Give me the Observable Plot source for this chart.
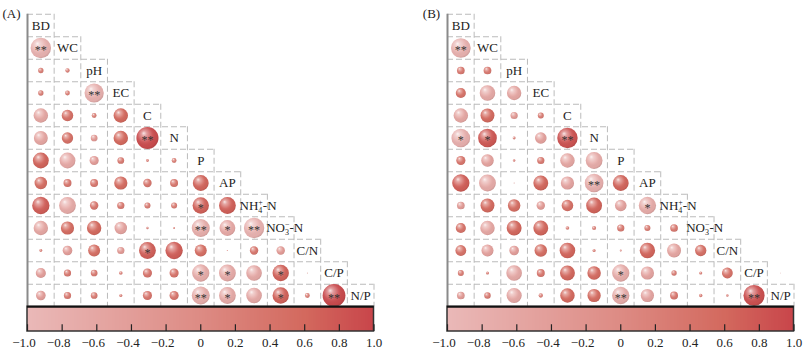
<!DOCTYPE html>
<html><head><meta charset="utf-8">
<script src="https://cdn.jsdelivr.net/npm/d3@7"></script>
<script src="https://cdn.jsdelivr.net/npm/@observablehq/plot@0.6"></script>
<style>
body{margin:0;background:#fff;}
#wrap{display:flex;width:811px;height:357px;overflow:hidden;}
</style></head><body><div id="wrap"></div>
<script>
const variables = ["BD","WC","pH","EC","C","N","P","AP","NH4+-N","NO3−-N","C/N","C/P","N/P"];

const corrA = [
  [],
  [-0.85],
  [0.22, 0.18],
  [0.22, 0.2, -0.8],
  [-0.6, 0.48, 0.2, 0.6],
  [-0.58, 0.47, -0.28, 0.6, 0.92],
  [0.66, -0.66, -0.38, 0.28, 0.12, 0.2],
  [0.52, 0.33, 0.33, 0.55, 0.35, 0.33, 0.66],
  [0.72, -0.7, 0.35, 0.3, 0.25, 0.25, 0.68, 0.7],
  [-0.6, 0.55, 0.6, -0.52, 0.1, 0.08, -0.75, -0.66, -0.85],
  [0.12, -0.4, 0.5, -0.3, 0.7, 0.72, 0.5, 0.05, 0.35, -0.35],
  [-0.42, 0.3, 0.28, 0.15, 0.38, 0.38, -0.72, -0.7, -0.65, 0.68, 0.04],
  [-0.4, 0.3, 0.28, 0.13, 0.38, 0.38, -0.75, -0.7, -0.65, 0.68, 0.2, 0.95]
];
const sigA = [
  [],
  ["**"],
  ["", ""],
  ["", "", "**"],
  ["", "", "", ""],
  ["", "", "", "", "**"],
  ["", "", "", "", "", ""],
  ["", "", "", "", "", "", ""],
  ["", "", "", "", "", "", "*", ""],
  ["", "", "", "", "", "", "**", "*", "**"],
  ["", "", "", "", "*", "", "", "", "", ""],
  ["", "", "", "", "", "", "*", "*", "", "*", ""],
  ["", "", "", "", "", "", "**", "*", "", "*", "", "**"]
];

const corrB = [
  [],
  [-0.82],
  [0.32, 0.32],
  [0.42, -0.65, -0.6],
  [-0.6, 0.58, -0.3, 0.25],
  [-0.78, 0.78, 0.12, -0.48, 0.85],
  [0.38, -0.52, 0.1, 0.3, -0.6, -0.7],
  [0.72, -0.7, 0.04, 0.62, -0.55, -0.78, 0.66],
  [-0.32, 0.58, 0.52, -0.35, 0.48, 0.66, -0.48, -0.72],
  [0.42, -0.6, 0.62, 0.62, 0.15, 0.17, 0.3, 0.25, 0.32],
  [0.45, -0.5, -0.4, 0.52, 0.65, 0.13, 0.08, 0.64, -0.58, 0.47],
  [0.25, 0.13, -0.65, 0.33, 0.62, 0.56, -0.72, -0.55, 0.22, 0.13, 0.45],
  [-0.32, 0.27, -0.63, 0.18, 0.6, 0.55, -0.72, -0.55, 0.33, 0.14, 0.1, 0.88]
];
const sigB = [
  [],
  ["**"],
  ["", ""],
  ["", "", ""],
  ["", "", "", ""],
  ["*", "*", "", "", "**"],
  ["", "", "", "", "", ""],
  ["", "", "", "", "", "**", ""],
  ["", "", "", "", "", "", "", "*"],
  ["", "", "", "", "", "", "", "", ""],
  ["", "", "", "", "", "", "", "", "", ""],
  ["", "", "", "", "", "", "*", "", "", "", ""],
  ["", "", "", "", "", "", "**", "", "", "", "", "**"]
];
// stray tiny value visible in panel B (row C/P, column N/P)
const extraA = [];
const extraB = [{row: 11, col: 12, r: 0.03}];

const colorbarTicks = [-1, -0.8, -0.6, -0.4, -0.2, 0, 0.2, 0.4, 0.6, 0.8, 1];
const tickLabels = ["−1.0", "−0.8", "−0.6", "−0.4", "−0.2", "0", "0.2", "0.4", "0.6", "0.8", "1.0"];
const colorDomain = [-1, 0, 0.6, 1];
const colorStops = ["#eab9b8", "#dd8b84", "#d3695e", "#c8454a"];

function panel(corr, sig, extra, name, id, width) {
  const n = variables.length, w = 2 / n;
  const cx = j => -1 + (j + 0.5) * w;
  const cells = [];
  corr.forEach((row, i) => row.forEach((r, j) => cells.push({i, j, r, s: sig[i][j]})));
  extra.forEach(e => cells.push({i: e.row, j: e.col, r: e.r, s: ""}));
  const diag = variables.map((v, i) => ({i, v}));
  const hLines = d3.range(n).map(k => ({y: k, x2: -1 + (k + 1) * w}));
  const vLines = d3.range(n).map(k => ({x: -1 + (k + 1) * w, y1: k}));
  const steps = d3.range(-1, 1, 0.01);
  const X = d => cx(d.j), Y = d => d.i + 0.5, R = d => Math.abs(d.r);
  const svg = Plot.plot({
    width, height: 357,
    marginLeft: 0, marginRight: 0, marginTop: 0, marginBottom: 0,
    x: {domain: [-1, 1], range: [27, 373.5], axis: null},
    y: {domain: [0, 14.1], range: [13.75, 331], axis: null},
    r: {type: "linear", domain: [0, 1], range: [0, 12]},
    color: {type: "linear", domain: colorDomain, range: colorStops},
    style: {fontFamily: "'Liberation Serif', 'Times New Roman', serif", fontSize: "13px", background: "white", color: "#222"},
    marks: [
      Plot.ruleY(hLines, {y: "y", x1: -1, x2: "x2", stroke: "#bbb", strokeDasharray: "6,3"}),
      Plot.ruleX(vLines, {x: "x", y1: "y1", y2: 13, stroke: "#bbb", strokeDasharray: "6,3"}),
      Plot.dot(cells, {x: X, y: Y, r: R, fill: "r"}),
      Plot.dot(cells, {x: X, y: Y, r: R, fill: `url(#${id})`}),
      Plot.text(cells.filter(d => d.s), {x: X, y: Y, text: "s", dy: 2.5, fill: "#333", fontSize: 12}),
      Plot.text(diag.filter(d => d.v.length <= 3), {x: d => cx(d.i), y: d => d.i + 0.5, text: "v", fill: "#222"}),
      Plot.text(diag.filter(d => d.v.length > 3), {x: d => cx(d.i), y: d => d.i + 0.5, text: "v", dx: 4, fill: "#222"}),
      Plot.ruleX([-1], {y1: 0, y2: 13, stroke: "#8a8a8a", strokeWidth: 2}),
      Plot.rect(steps, {x1: d => d, x2: d => d + 0.015, y1: 13, y2: 14.1, fill: d => d + 0.005, shapeRendering: "crispEdges"}),
      Plot.rect([0], {x1: -1, x2: 1, y1: 13, y2: 14.1, fill: "none", stroke: "#333", strokeWidth: 1.5}),
      Plot.ruleY([13], {x1: -1, x2: 1, stroke: "#111", strokeWidth: 2}),
      Plot.ruleX(colorbarTicks, {x: d => d, y1: 13.8, y2: 14.1, stroke: "#222", strokeWidth: 1.2}),
      Plot.text(colorbarTicks.filter(d => d < 0), {x: d => d, y: 14.6, dx: -3.5, text: d => tickLabels[colorbarTicks.indexOf(d)], fill: "#222"}),
      Plot.text(colorbarTicks.filter(d => d >= 0), {x: d => d, y: 14.6, text: d => tickLabels[colorbarTicks.indexOf(d)], fill: "#222"}),
      Plot.text([name], {x: -1, y: 0, dx: -16, text: d => d, fill: "#222"})
    ]
  });
  const defs = d3.select(svg).insert("defs", ":first-child");
  const g = defs.append("radialGradient").attr("id", id)
    .attr("cx", 0.42).attr("cy", 0.4).attr("r", 0.62).attr("fx", 0.33).attr("fy", 0.28);
  [[0, "#fff", 0.85], [0.2, "#fff", 0.45], [0.55, "#fff", 0.08], [0.85, "#000", 0.02], [1, "#000", 0.12]]
    .forEach(([o, c, a]) => g.append("stop").attr("offset", o).attr("stop-color", c).attr("stop-opacity", a));
  // chemical sub/superscripts
  d3.select(svg).selectAll("text").each(function () {
    const t = this.textContent;
    if (t === "NH4+-N" || t === "NO3−-N") {
      const sel = d3.select(this);
      sel.text("");
      sel.append("tspan").text(t.slice(0, 2));
      sel.append("tspan").attr("font-size", 8).attr("dy", 3).text(t[2]);
      sel.append("tspan").attr("font-size", 8).attr("dx", -4).attr("dy", -8).text(t[3]);
      sel.append("tspan").attr("dy", 5).text(t.slice(4));
    }
  });
  return svg;
}

const wrap = document.getElementById("wrap");
wrap.appendChild(panel(corrA, sigA, extraA, "(A)", "shineA", 420));
wrap.appendChild(panel(corrB, sigB, extraB, "(B)", "shineB", 391));
</script></body></html>
